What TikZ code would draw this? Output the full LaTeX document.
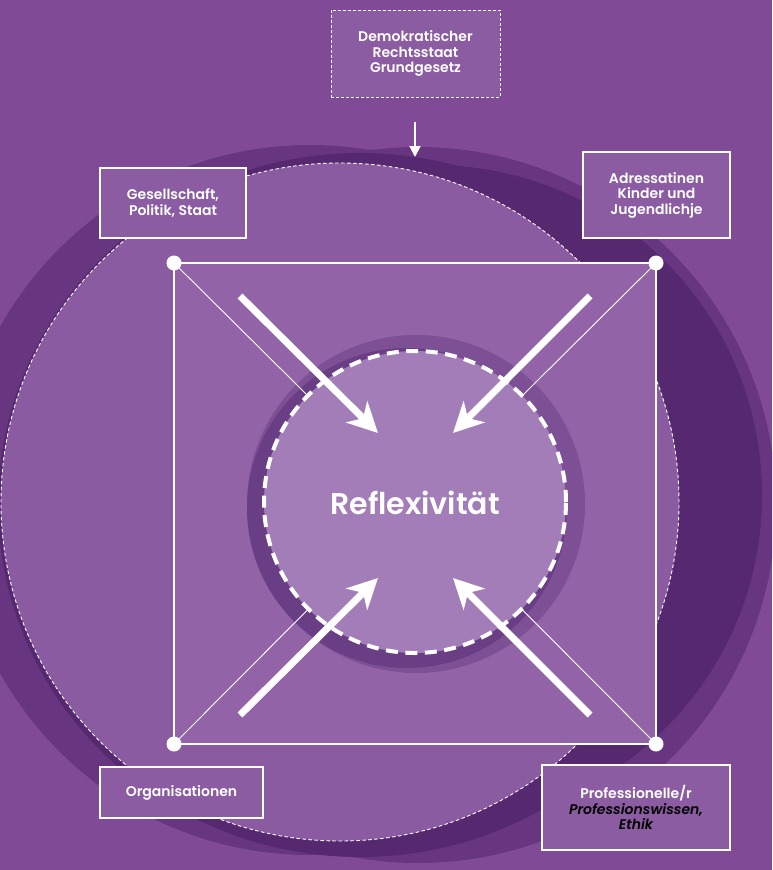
\documentclass[tikz,border=0pt]{standalone}
\usepackage{fontspec}
\setmainfont{Poppins}[BoldFont={Poppins SemiBold},BoldItalicFont={Poppins SemiBold Italic}]
\usetikzlibrary{arrows.meta}
\definecolor{bgc}{HTML}{804A97}
\definecolor{medc}{HTML}{683680}
\definecolor{darkc}{HTML}{55286F}
\definecolor{bigc}{HTML}{8B5BA1}
\definecolor{sqc}{HTML}{9263A7}
\definecolor{ringa}{HTML}{7D4F95}
\definecolor{ringb}{HTML}{6A3E84}
\definecolor{innerc}{HTML}{A27DB8}
\definecolor{boxc}{HTML}{8B5CA1}
\tikzset{
  box/.style={draw=white,line width=1.3pt,fill=boxc,align=center,text=white,font=\fontsize{14}{15.5}\selectfont\bfseries,inner sep=0pt},
  dashbox/.style={box,draw=white,line width=1pt,dash pattern=on 3pt off 2pt},
  dot/.style={circle,fill=white,inner sep=0pt,minimum size=15pt},
  diag/.style={draw=white,line width=0.9pt},
  bigarrow/.style={draw=white,line width=7pt,-{Stealth[length=30pt,width=30pt,inset=9pt]}},
}
\begin{document}
\begin{tikzpicture}[x=1pt,y=-1pt]
\useasboundingbox (0,0) rectangle (772,870);
\begin{scope}
\clip (0,0) rectangle (772,870);
\fill[bgc] (0,0) rectangle (772,870);
% shadow circles
\fill[medc] (310,500) circle[radius=355pt];
\fill[medc] (418,505) circle[radius=358pt];
\fill[darkc] (360,505) ellipse[x radius=362pt,y radius=352pt];
\fill[darkc] (432,495) circle[radius=330pt];
% big dashed circle
\fill[bigc] (340,502) circle[radius=339pt];
\draw[white,line width=0.9pt,dash pattern=on 3.5pt off 2.5pt] (340,502) circle[radius=339pt];
\end{scope}
% corners
\coordinate (tl) at (174,263);
\coordinate (tr) at (656,263);
\coordinate (bl) at (174,744);
\coordinate (br) at (656,744);
\coordinate (c) at (415,502);
% square
\draw[fill=sqc,draw=white,line width=1.2pt] (tl) -- (tr) -- (br) -- (bl) -- cycle;
% inner rings
\fill[ringa] (416,504) circle[radius=169pt];
\fill[ringb] (407,508) circle[radius=160pt];
% diagonals
\draw[diag] (tl) -- (c);
\draw[diag] (tr) -- (c);
\draw[diag] (bl) -- (c);
\draw[diag] (br) -- (c);
% inner circle
\fill[innerc] (c) circle[radius=151pt];
\draw[white,line width=4pt,dash pattern=on 12pt off 7.5pt] (c) circle[radius=151pt];
\node[text=white,font=\fontsize{30}{34}\selectfont\bfseries] (refl) at (415,503) {Reflexivität};
% arrows
\coordinate (a1s) at (240,296); \coordinate (a1e) at (378,433);
\coordinate (a2s) at (590,296); \coordinate (a2e) at (453,433);
\coordinate (a3s) at (240,715); \coordinate (a3e) at (378,578);
\coordinate (a4s) at (590,715); \coordinate (a4e) at (453,578);
\draw[bigarrow] (a1s) -- (a1e);
\draw[bigarrow] (a2s) -- (a2e);
\draw[bigarrow] (a3s) -- (a3e);
\draw[bigarrow] (a4s) -- (a4e);
% dots
\node[dot] (dtl) at (tl) {};
\node[dot] (dtr) at (tr) {};
\node[dot] (dbl) at (bl) {};
\node[dot] (dbr) at (br) {};
% boxes
\node[dashbox,minimum width=169pt,minimum height=87pt] (demo) at (415.5,53.5) {Demokratischer\\Rechtsstaat\\Grundgesetz};
\node[box,minimum width=146pt,minimum height=70pt] (ges) at (173,203) {Gesellschaft,\\Politik, Staat};
\node[box,minimum width=147pt,minimum height=86pt] (adr) at (656.5,195) {Adressatinen\\Kinder und\\Jugendlichje};
\node[box,minimum width=163pt,minimum height=51pt] (org) at (181.5,792.5) {Organisationen};
\node[box,minimum width=188pt,minimum height=85pt] (prof) at (636,807.5) {Professionelle/r\\\textcolor{black}{\itshape Professionswissen,}\\\textcolor{black}{\itshape Ethik}};
% top arrow
\coordinate (ts) at (415,122);
\coordinate (te) at (415,157);
\draw[white,line width=2pt,-{Triangle[length=11pt,width=11pt]}] (ts) -- (te);
\end{tikzpicture}
\end{document}
